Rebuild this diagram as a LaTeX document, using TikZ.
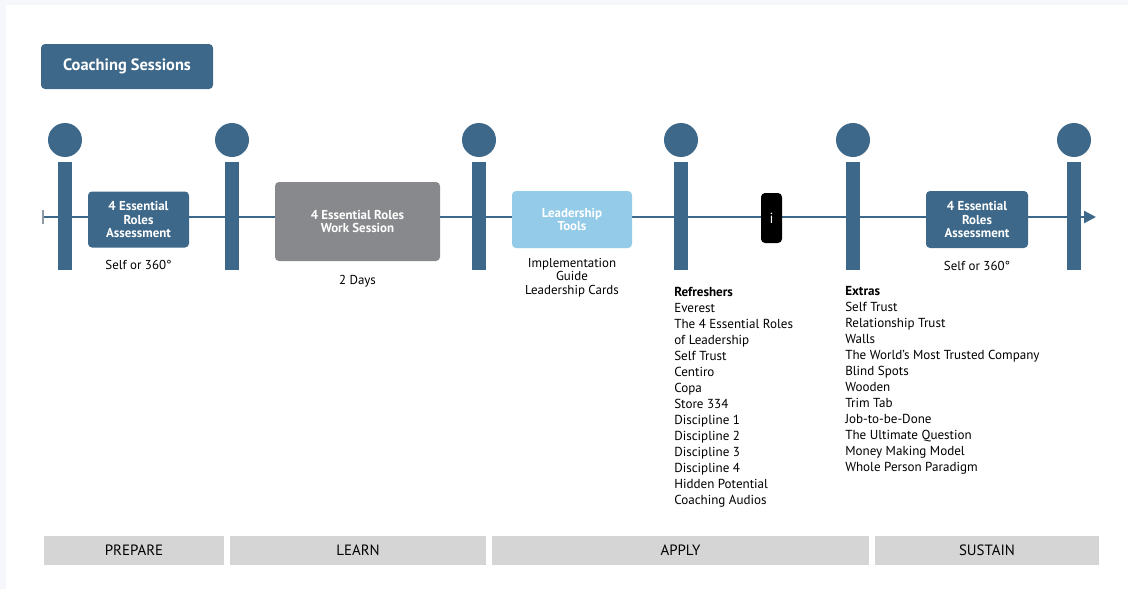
\documentclass[tikz,border=0pt]{standalone}
\usepackage{fontspec}
\setmainfont{PT Sans}
\usetikzlibrary{positioning,arrows.meta}
\definecolor{steel}{HTML}{3D6889}
\definecolor{slate}{HTML}{88898C}
\definecolor{sky}{HTML}{93CBE8}
\definecolor{phase}{HTML}{D5D5D5}
\definecolor{frame}{HTML}{F5F7FA}
\definecolor{tickgray}{HTML}{8E9AA6}

\begin{document}
\begin{tikzpicture}
[x=0.75pt,y=-0.75pt,
 box/.style={rounded corners=3pt,align=center,text=white,inner sep=0pt,
   font=\bfseries\fontsize{9.7}{10}\selectfont},
 post/.style={fill=steel,minimum width=10.5pt,minimum height=81pt,inner sep=0pt},
 knob/.style={circle,fill=steel,minimum size=25.5pt,inner sep=0pt},
 note/.style={align=center,inner sep=0pt,font=\fontsize{9.7}{10.2}\selectfont},
 phasebar/.style={fill=phase,minimum height=21.75pt,inner sep=0pt,
   font=\fontsize{11.2}{12}\selectfont},
 list/.style={align=left,anchor=north west,inner sep=0pt,
   font=\fontsize{9.8}{12}\selectfont}]
\fill[frame] (0,0) rectangle (1128,589);
\fill[white] (6,5) rectangle (1128,589);

% header
\node[box,fill=steel,minimum width=129pt,minimum height=33.75pt,
  font=\bfseries\fontsize{12.3}{13}\selectfont] (coach) at (127,66.5) {Coaching Sessions};

% timeline
\coordinate (start) at (42,217);
\coordinate (end) at (1096,217);
\draw[steel,line width=1.8pt,
  {Bar[color=tickgray,width=10.5pt,line width=1.5pt]}-{Triangle[width=9pt,length=9pt]}]
  (start) -- (end);

% posts
\foreach \x/\n in {65/p1,232/p2,479/p3,681/p4,853/p5,1074/p6}{
  \node[post] (\n) at (\x,216) {};
  \node[knob] (k\n) at (\x,140) {};
}

% boxes on the line
\node[box,fill=steel,minimum width=75.75pt,minimum height=42pt] (assess) at (138.5,219.5)
  {4 Essential\\Roles\\Assessment};
\node[box,fill=slate,minimum width=123.75pt,minimum height=59.25pt] (work) at (357.5,221.5)
  {4 Essential Roles\\Work Session};
\node[box,fill=sky,minimum width=90pt,minimum height=42.75pt] (tools) at (572,219.5)
  {Leadership\\Tools};
\node[box,fill=black,minimum width=15.75pt,minimum height=37.5pt,
  font=\fontsize{11}{12}\selectfont] (info) at (771.5,218) {i};
\node[box,fill=steel,minimum width=76.5pt,minimum height=42.75pt] (reassess) at (977,219.5)
  {4 Essential\\Roles\\Assessment};

% notes under the boxes
\node[note,below=9.5pt of assess] (self) {Self or 360°};
\node[note,below=10pt of work] (days) {2 Days};
\node[note,below=7pt of tools] (impl) {Implementation\\Guide\\Leadership Cards};
\node[note,below=9.5pt of reassess] (reself) {Self or 360°};

% lists
\node[list] (refresh) at (674,286.5) {\textbf{Refreshers}\\Everest\\The 4 Essential Roles\\
  of Leadership\\Self Trust\\Centiro\\Copa\\Store 334\\Discipline 1\\Discipline 2\\
  Discipline 3\\Discipline 4\\Hidden Potential\\Coaching Audios};
\node[list] (extras) at (845,286.5) {\textbf{Extras}\\Self Trust\\Relationship Trust\\Walls\\
  The World’s Most Trusted Company\\Blind Spots\\Wooden\\Trim Tab\\Job-to-be-Done\\
  The Ultimate Question\\Money Making Model\\Whole Person Paradigm};

% phases
\node[phasebar,minimum width=135pt] (prepare) at (134,550.5) {PREPARE};
\node[phasebar,minimum width=192pt] (learn) at (358,550.5) {LEARN};
\node[phasebar,minimum width=282.75pt] (apply) at (680.5,550.5) {APPLY};
\node[phasebar,minimum width=168pt] (sustain) at (987,550.5) {SUSTAIN};
\end{tikzpicture}
\end{document}
